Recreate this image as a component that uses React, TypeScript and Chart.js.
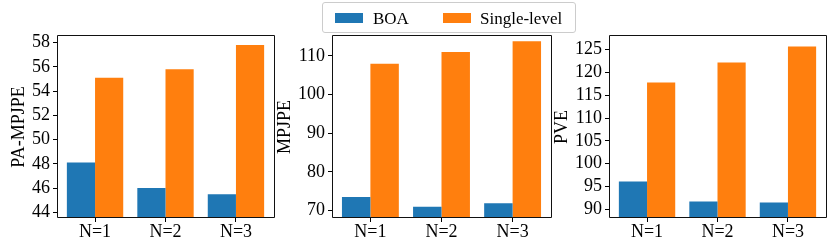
import React, { useEffect, useRef } from 'react';
import { Chart, registerables } from 'chart.js';

Chart.register(...registerables);

// ---- data ----
const categories = ['N=1', 'N=2', 'N=3'];
const seriesNames = ['BOA', 'Single-level'];
const seriesColors = ['#1f77b4', '#ff7f0e'];

const boaPA = [48.1, 46.0, 45.5];
const singlePA = [55.1, 55.8, 57.8];
const paTicks = [44, 46, 48, 50, 52, 54, 56, 58];
const paRange = [43.53, 58.55];

const boaMPJPE = [73.5, 71.0, 71.9];
const singleMPJPE = [108.0, 111.0, 113.8];
const mpjpeTicks = [70, 80, 90, 100, 110];
const mpjpeRange = [68.1, 115.16];

const boaPVE = [96.1, 91.7, 91.5];
const singlePVE = [117.8, 122.2, 125.7];
const pveTicks = [90, 95, 100, 105, 110, 115, 120, 125];
const pveRange = [88.09, 127.99];

const FONT_FAMILY = '"Liberation Serif", "Times New Roman", serif';
const AXIS_FONT_SIZE = 18;
const LEGEND_FONT_SIZE = 17;

const framePlugin = {
  id: 'frame',
  afterDraw(chart: any) {
    const { ctx, chartArea: a } = chart;
    ctx.save();
    ctx.strokeStyle = '#111';
    ctx.lineWidth = 1;
    ctx.beginPath();
    ctx.rect(a.left + 0.5, a.top - 0.5, a.right - a.left, a.bottom - a.top);
    ctx.stroke();
    ctx.restore();
  },
};

type PanelProps = {
  boa: number[];
  single: number[];
  range: number[];
  ticks: number[];
  title: string;
  left: number;
  width: number;
  yWidth: number;
  padRight: number;
};

function Panel({ boa, single, range, ticks, title, left, width, yWidth, padRight }: PanelProps) {
  const ref = useRef<HTMLCanvasElement | null>(null);
  useEffect(() => {
    if (!ref.current) return;
    const font = { family: FONT_FAMILY, size: AXIS_FONT_SIZE };
    const values = [boa, single];
    const chart = new Chart(ref.current, {
      type: 'bar',
      data: {
        datasets: values.map((vals, k) => ({
          label: seriesNames[k],
          data: vals.map((v, i) => ({ x: i, y: v })),
          backgroundColor: seriesColors[k],
          borderWidth: 0,
          categoryPercentage: 0.8,
          barPercentage: 1.0,
        })),
      },
      options: {
        responsive: false,
        maintainAspectRatio: false,
        animation: false,
        layout: { padding: { top: 36, right: padRight, bottom: 0, left: 0 } },
        plugins: { legend: { display: false }, tooltip: { enabled: false } },
        scales: {
          x: {
            type: 'linear',
            min: -0.54,
            max: 2.54,
            offset: false,
            border: { display: false },
            grid: {
              display: true,
              offset: false,
              drawOnChartArea: false,
              drawTicks: true,
              tickLength: 4,
              color: '#000',
              lineWidth: 1,
            },
            ticks: {
              font: { ...font, lineHeight: 1 },
              color: '#000',
              padding: 1,
              maxRotation: 0,
              autoSkip: false,
              includeBounds: false,
              stepSize: 1,
              callback: (v: any) => categories[v] ?? '',
            },
            afterBuildTicks: (s: any) => {
              s.ticks = categories.map((_, i) => ({ value: i }));
            },
            afterFit: (s: any) => {
              s.height = 24;
            },
          },
          y: {
            type: 'linear',
            min: range[0],
            max: range[1],
            border: { display: false },
            grid: {
              display: true,
              offset: false,
              drawOnChartArea: false,
              drawTicks: true,
              tickLength: 4,
              color: '#000',
              lineWidth: 1,
            },
            ticks: { font, color: '#000', padding: 3, includeBounds: false },
            afterBuildTicks: (s: any) => {
              s.ticks = ticks.map((v) => ({ value: v }));
            },
            afterFit: (s: any) => {
              s.width = yWidth;
            },
            title: {
              display: true,
              text: title,
              font,
              color: '#000',
              padding: 0,
            },
          },
        },
      } as any,
      plugins: [framePlugin],
    });
    return () => chart.destroy();
  }, []);
  return (
    <canvas
      ref={ref}
      width={width}
      height={242}
      style={{ position: 'absolute', left, top: 0, width, height: 242 }}
    />
  );
}

export default function App() {
  const textStyle: React.CSSProperties = {
    position: 'absolute',
    fontFamily: FONT_FAMILY,
    fontSize: LEGEND_FONT_SIZE,
    lineHeight: `${LEGEND_FONT_SIZE}px`,
    color: '#000',
    whiteSpace: 'nowrap',
    top: 10,
  };
  return (
    <div
      style={{
        position: 'fixed',
        left: 0,
        top: 0,
        width: 830,
        height: 242,
        background: '#fff',
        overflow: 'hidden',
      }}
    >
      <Panel boa={boaPA} single={singlePA} range={paRange} ticks={paTicks} title="PA-MPJPE"
        left={8} width={272} yWidth={49} padRight={6} />
      <Panel boa={boaMPJPE} single={singleMPJPE} range={mpjpeRange} ticks={mpjpeTicks} title="MPJPE"
        left={274} width={282} yWidth={58} padRight={5} />
      <Panel boa={boaPVE} single={singlePVE} range={pveRange} ticks={pveTicks} title="PVE"
        left={551} width={279} yWidth={58} padRight={4} />
      <div
        style={{
          position: 'absolute',
          left: 322,
          top: 2,
          width: 254,
          height: 31,
          boxSizing: 'border-box',
          border: '1px solid #cccccc',
          borderRadius: 3,
          background: 'rgba(255,255,255,0.8)',
        }}
      />
      <div style={{ position: 'absolute', left: 335, top: 13, width: 28, height: 10, background: seriesColors[0] }} />
      <div style={{ ...textStyle, left: 373 }}>{seriesNames[0]}</div>
      <div style={{ position: 'absolute', left: 443, top: 13, width: 28, height: 10, background: seriesColors[1] }} />
      <div style={{ ...textStyle, left: 480 }}>{seriesNames[1]}</div>
    </div>
  );
}
